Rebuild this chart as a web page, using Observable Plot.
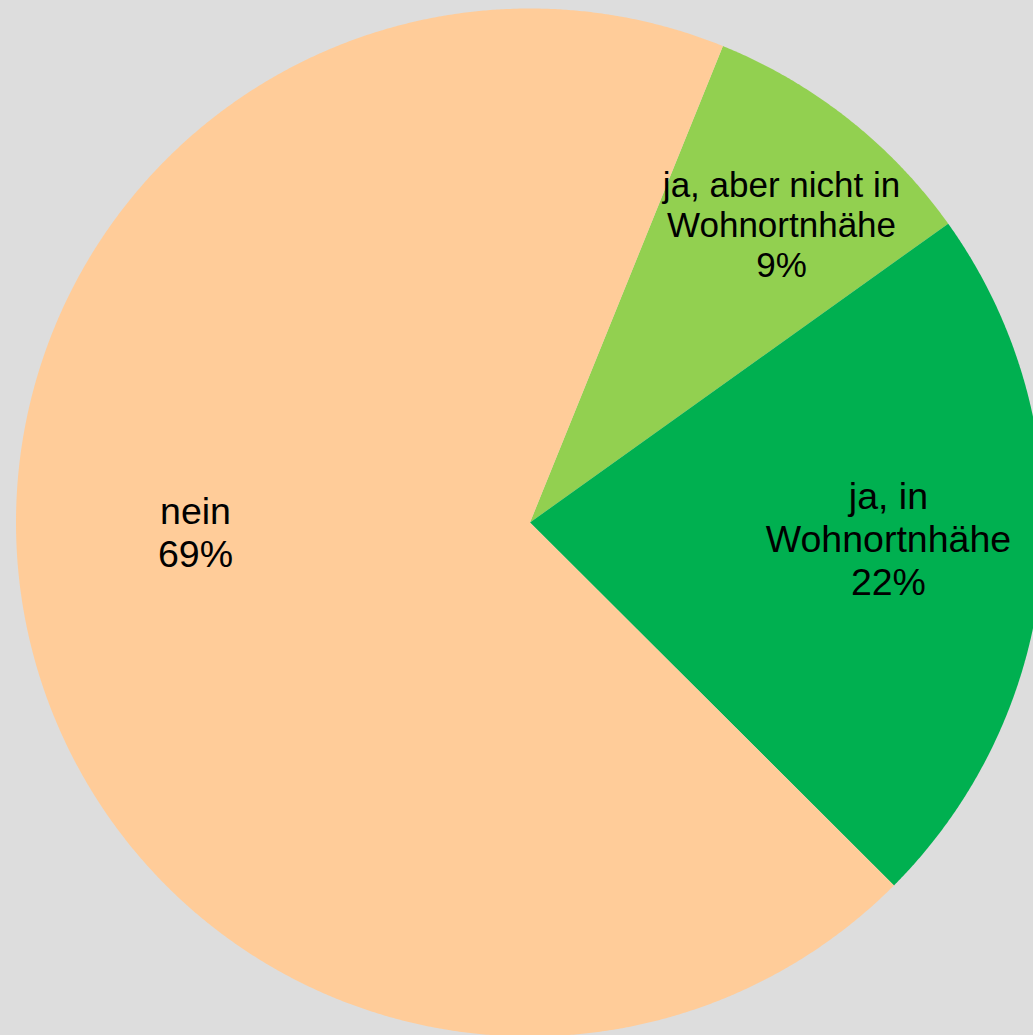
<!DOCTYPE html>
<html>
<head>
<meta charset="utf-8">
<script src="https://cdn.jsdelivr.net/npm/d3@7"></script>
<script src="https://cdn.jsdelivr.net/npm/@observablehq/plot@0.6"></script>
<style>
  html, body { margin: 0; padding: 0; background: #dddddd; }
  #chart { width: 1033px; height: 1035px; overflow: hidden; }
</style>
</head>
<body>
<div id="chart"></div>
<script>
// ---- data ----
const categories = ["ja, aber nicht in Wohnortnhähe", "ja, in Wohnortnhähe", "nein"];
const labelLines = [["ja, aber nicht in", "Wohnortnhähe"], ["ja, in", "Wohnortnhähe"], ["nein"]];
const values = [9.0, 22.35, 68.65];
const colors = ["#92D050", "#00B050", "#FFCC99"];

// ---- layout constants ----
const startAngle = 22.05;              // degrees, clockwise from 12 o'clock
const labelRadius = [0.759, 0.698, 0.651];
const labelAngleShift = [1.9, -2.2, 10.0];
const labelFontSize = [35, 37.5, 37.5];
const W = 1033, H = 1035, CX = 529.5, CY = 522, R = 514;

const total = d3.sum(values);
const rad = a => a * Math.PI / 180;
let acc = startAngle;
const polys = [];
const labels = [];
values.forEach((v, i) => {
  const a0 = acc, a1 = acc + v / total * 360;
  acc = a1;
  polys.push({cat: categories[i], x: 0, y: 0, k: 0});
  const n = Math.max(2, Math.ceil((a1 - a0) / 0.25));
  for (let j = 0; j <= n; j++) {
    const a = rad(a0 + (a1 - a0) * j / n);
    polys.push({cat: categories[i], x: Math.sin(a), y: Math.cos(a), k: j + 1});
  }
  polys.push({cat: categories[i], x: 0, y: 0, k: n + 2});
  const am = rad((a0 + a1) / 2 + labelAngleShift[i]);
  labels.push({
    cat: categories[i],
    x: labelRadius[i] * Math.sin(am),
    y: labelRadius[i] * Math.cos(am),
    size: labelFontSize[i],
    text: [...labelLines[i], Math.round(v / total * 100) + "%"].join("\n")
  });
});

const chart = Plot.plot({
  width: W,
  height: H,
  margin: 0,
  style: {background: "#dddddd", fontFamily: "'Liberation Sans', Arial, sans-serif"},
  x: {domain: [-1, 1], range: [CX - R, CX + R], axis: null},
  y: {domain: [-1, 1], range: [CY + R, CY - R], axis: null},
  color: {domain: categories, range: colors},
  marks: [
    Plot.line(polys, {x: "x", y: "y", z: "cat", fill: "cat", stroke: null, curve: "linear"}),
    ...labels.map(l => Plot.text([l], {
      x: "x", y: "y", text: "text",
      fontSize: l.size, lineHeight: 1.15, lineAnchor: "middle",
      fill: "#000000", textAnchor: "middle"
    }))
  ]
});
document.getElementById("chart").appendChild(chart);
</script>
</body>
</html>
